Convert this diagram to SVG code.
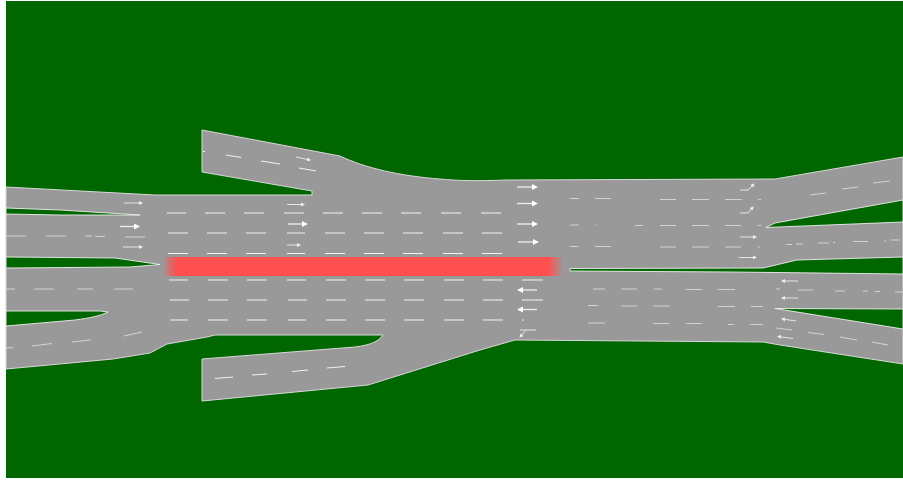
<svg xmlns="http://www.w3.org/2000/svg" width="903" height="480" viewBox="0 0 903 480">
<style>
.road{fill:#999;stroke:#d8d8d8;stroke-width:1}
.grass{fill:#060;stroke:#eee;stroke-width:.9}
.d{stroke:#f2f2f2;stroke-width:1;fill:none}
.f{stroke:#d2d2d2;stroke-width:1.2;fill:none}
.a{stroke:#eee;stroke-width:1.3;fill:none;marker-end:url(#h)}
.s{stroke:#e6e6e6;stroke-width:1;fill:none;marker-end:url(#k)}
</style>
<defs>
<marker id="h" markerUnits="userSpaceOnUse" markerWidth="7" markerHeight="7" refX="4" refY="3.5" orient="auto"><path d="M0 0.5L6 3.5L0 6.5Z" fill="#fff"/></marker>
<marker id="k" markerUnits="userSpaceOnUse" markerWidth="6" markerHeight="5" refX="3" refY="2.5" orient="auto"><path d="M0 0.5L4 2.5L0 4.5Z" fill="#eee"/></marker>
<linearGradient id="r" x1="164" x2="562" y1="0" y2="0" gradientUnits="userSpaceOnUse">
<stop offset="0" stop-color="#ff5050" stop-opacity=".15"/><stop offset=".03" stop-color="#ff5050"/><stop offset=".965" stop-color="#ff5050"/><stop offset="1" stop-color="#ff5050" stop-opacity=".1"/>
</linearGradient>
</defs>
<rect width="903" height="480" fill="#fff"/>
<rect x="6" y="1" width="897" height="477" fill="#060"/>
<path id="road" class="road" d="M6 187L155 195L312 195L312 191L202 172L202 130L340 156C365 168 400 176 440 179C460 181 480 181 507 180L775 179L903 157L903 364L780 345L763 342L515 340L480 350L400 375L368 385L202 401L202 359L355 347C370 345 378 342 383 335L215 335L207 337L167 344L150 353L113 359L6 369Z"/>
<g id="islands">
<path class="grass" d="M6 208L60 210L140 215L60 215L6 214Z"/>
<path class="grass" d="M6 257L115 258L160 264.500L130 267L6 268Z"/>
<path class="grass" d="M6 311L100 311L108 312C100 316 90 318 75 320L6 326Z"/>
<path class="grass" d="M570 268.500L763 268L797 260L903 257L903 274L730 272L570 271Z"/>
<path class="grass" d="M766 227.500L775 223L903 200L903 222Z"/>
<path class="grass" d="M775 308.500L903 309L903 329Z"/>
</g>
<rect id="red" x="164" y="257" width="398" height="19" fill="url(#r)"/>
<g id="dashes-upper" class="d">
<path d="M167 213h19M205 213h20M244 213h20M284 213h20M323 213h20M362 213h20M401 213h20M441 213h20M481 213h20"/>
<path d="M168 233h20M207 233h20M246 233h20M287 233h18M325 233h20M364 233h20M403 233h20M443 233h20M482 233h20"/>
<path d="M168 253.500h20M207 253.500h20M246 253.500h20M287 253.500h18M325 253.500h20M364 253.500h20M403 253.500h20M443 253.500h20M482 253.500h20"/>
</g>
<g id="dashes-lower" class="d">
<path d="M169 280h19M208 280h20M247 280h20M287 280h19M326 280h20M365 280h20M404 280h20M444 280h20M483 280h20M522 280h21"/>
<path d="M170 300h19M208 300h20M247 300h20M288 300h19M326 300h20M365 300h20M404 300h20M444 300h20M483 300h20M522 300h21"/>
<path d="M170 320h18M208 320h20M247 320h20M288 320h18M326 320h20M365 320h20M404 320h20M444 320h20M483 320h20M522 320h2"/>
</g>
<g id="dashes-faint" class="f">
<path d="M6 236h20M46 236h20M85 236h7M95 236.500h10M125 237h20"/>
<path d="M6 289h9M34 289h20M77 289h16M114 289h19"/>
<path d="M6 348l7-.5M32 346l20-2.500M72 342l19-2M124 336l18-4"/>
<path d="M570 198.500h9M595 198.500h16M660 199.500h16M692 199.500h17M725 199.500h17M758 199.500h3"/>
<path d="M570 225h9M595 225h1M635 225.500h8M660 225.500h16M692 225.500h17M725 225.500h16M758 225.500h3"/>
<path d="M570 246.500h8M595 246.500h16M660 247h16M692 247h17M725 247h16M758 247h2"/>
<path d="M593 289h12M621 289h16M654 289h8M686 289.500h16M718 289.500h17M776 289h4M798 290h15M835 291h10M863 291h5M875 291.500h5M895 292h8"/>
<path d="M588 305.500h10M621 306h16M653 306h17M718 306.500h17M751 306.500h12"/>
<path d="M588 323h17M653 323.500h16M686 323.500h16M728 324.500h6M750 324.500h13"/>
<path d="M810 195l16-2M842 189l16-2M873 183l17-2"/>
<path d="M786 244.500h6M796 244h7M818 243h11M833 242.500h2M853 241.500h15M884 241h2M891 240h9"/>
<path d="M776 328l16 2M808 332.500l16 2M840 337l17 3M872 342l16 3"/>
</g>
<g id="ramp-dashes" class="d">
<path d="M203 151.500h2M226 155l15 2.500M261 161l19 3M299 168l17 3"/>
<path d="M215 378.500l18-1.500M252 375l15-1M292 371.500l16-1.500M327 368l18-1.500"/>
</g>
<g id="arrows">
<path class="s" d="M124 203h18"/><path class="a" d="M120 226.500h18"/><path class="s" d="M123 247h19"/>
<path class="s" d="M287 204.500h17"/><path class="a" d="M288 224h18"/><path class="s" d="M287 245h13"/>
<path class="s" d="M296 157l14 3"/>
<path class="a" d="M517 187h19"/><path class="a" d="M517 203.500h19"/><path class="a" d="M517 224h19"/><path class="a" d="M518 242h19"/>
<path class="s" d="M740 237h16"/><path class="s" d="M739 257.500h17"/>
<path class="s" d="M740 190h8l6-6"/><path class="s" d="M740 213h8l5-6"/>
<path class="a" d="M537 290h-18"/><path class="a" d="M537 309.500h-18"/>
<path class="s" d="M536 330h-16M526 330l-6 7"/>
<path class="s" d="M798 281h-16"/><path class="s" d="M798 298h-16"/>
<path class="s" d="M796 321l-14-2"/><path class="s" d="M793 338.500l-15-2"/>
</g>
</svg>
